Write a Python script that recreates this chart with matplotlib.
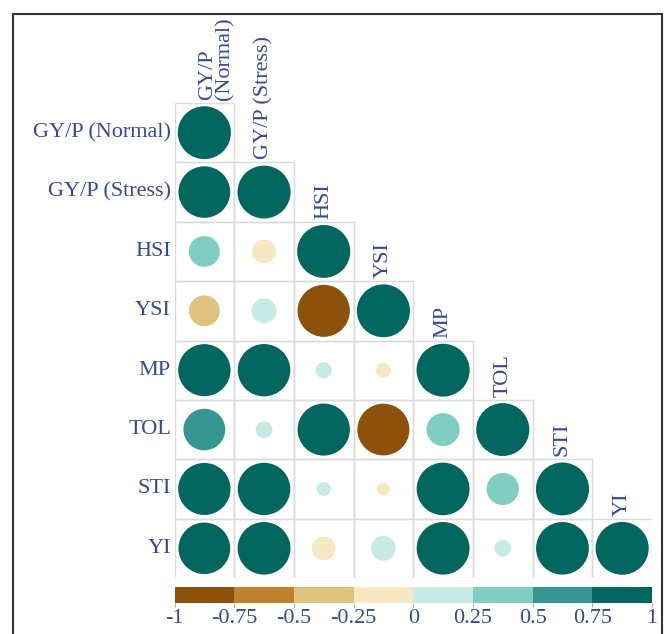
import numpy as np
import matplotlib
matplotlib.use("Agg")
import matplotlib.pyplot as plt
from matplotlib.colors import ListedColormap, BoundaryNorm
from matplotlib.colorbar import ColorbarBase

plt.rcParams['font.family'] = ['Liberation Serif', 'DejaVu Serif']
plt.rcParams['axes.unicode_minus'] = False

labels = ['GY/P (Normal)', 'GY/P (Stress)', 'HSI', 'YSI', 'MP', 'TOL', 'STI', 'YI']
top_labels = ['GY/P\n(Normal)', 'GY/P (Stress)', 'HSI', 'YSI', 'MP', 'TOL', 'STI', 'YI']

# нижний треугольник корреляционной матрицы, по строкам
corr_rows = [
    [1.0],
    [0.95, 1.0],
    [0.34, -0.20, 1.0],
    [-0.34, 0.22, -0.97, 1.0],
    [0.97, 0.98, 0.09, -0.08, 1.0],
    [0.62, 0.10, 0.97, -0.96, 0.39, 1.0],
    [0.97, 0.98, 0.07, -0.06, 0.99, 0.37, 1.0],
    [0.95, 0.99, -0.20, 0.22, 0.99, 0.10, 0.99, 1.0],
]

bounds = [-1, -0.75, -0.5, -0.25, 0, 0.25, 0.5, 0.75, 1]
tick_text = ['-1', '-0.75', '-0.5', '-0.25', '0', '0.25', '0.5', '0.75', '1']
palette = ['#8c510a', '#bf812d', '#dfc27d', '#f6e8c3',
           '#c7eae5', '#80cdc1', '#35978f', '#01665e']
text_color = '#34499b'

cmap = ListedColormap(palette)
norm = BoundaryNorm(bounds, cmap.N)

W, H = 666, 634
fig = plt.figure(figsize=(W / 100, H / 100), dpi=100)

# сетка ячеек
ax = fig.add_axes([174.5 / W, 1 - 578 / H, 477.5 / W, 475 / H])
n = len(labels)
ax.set_xlim(0, n)
ax.set_ylim(n, 0)
ax.axis('off')

for i, row in enumerate(corr_rows):
    for j, r in enumerate(row):
        ax.add_patch(plt.Rectangle((j, i), 1, 1, fill=False,
                                   edgecolor='#dadada', lw=1.0))
        rad = 0.445 * np.sqrt(abs(r))
        ax.add_patch(plt.Circle((j + 0.5, i + 0.5), rad,
                                color=cmap(norm(r)), lw=0))

for i, lab in enumerate(labels):
    ax.text(-0.06, i + 0.5, lab, ha='right', va='center',
            fontsize=16, color=text_color)

for j, lab in enumerate(top_labels):
    ax.text(j + 0.5 + (0.2 if '\n' in lab else 0), j - 0.05, lab,
            rotation=90, ha='center', va='bottom', fontsize=16,
            color=text_color, multialignment='left', linespacing=0.85,
            clip_on=False)

# цветовая шкала
cax = fig.add_axes([174.5 / W, 1 - 603 / H, 477.5 / W, 16 / H])
cb = ColorbarBase(cax, cmap=cmap, norm=norm, boundaries=bounds,
                  orientation='horizontal', ticks=bounds)
cb.outline.set_visible(False)
cb.set_ticklabels(tick_text)
cax.tick_params(axis='x', colors='#aaaaaa', labelcolor=text_color,
                labelsize=16, length=3, width=0.8, pad=1)

# рамка
fig.add_artist(plt.Rectangle((12.5 / W, -0.1), (662 - 12.5) / W, 1.1 - 14 / H,
                             transform=fig.transFigure, fill=False,
                             edgecolor='#333333', lw=1.5))

fig.savefig('out.png', dpi=100)
